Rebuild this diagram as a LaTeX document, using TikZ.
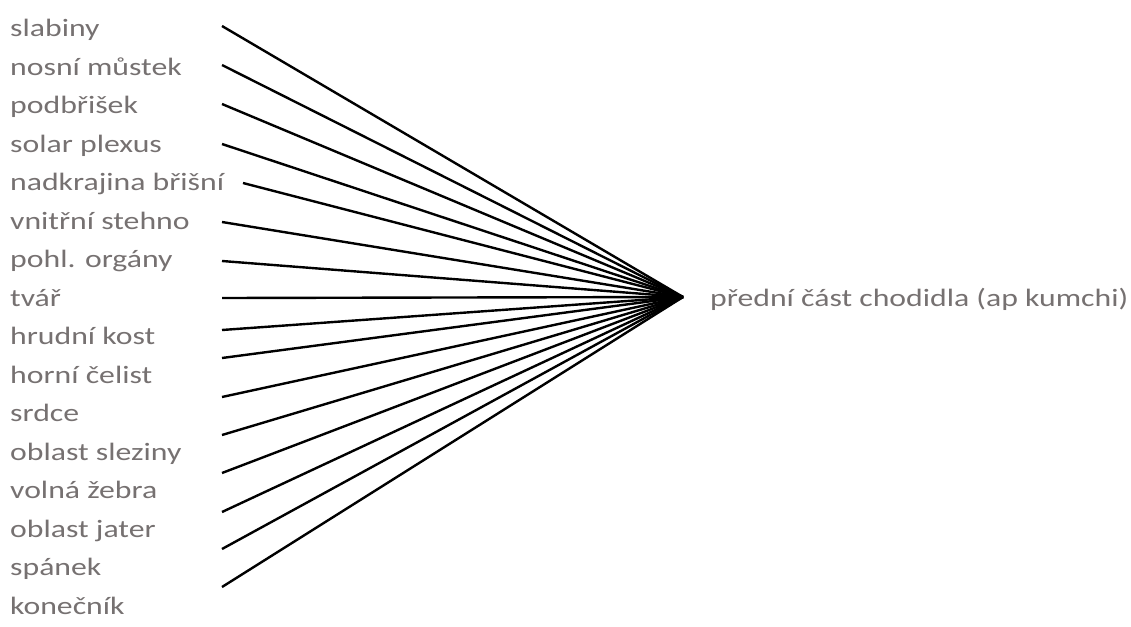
\documentclass[tikz,border=0pt]{standalone}
\usepackage{fontspec}
\setmainfont[FakeStretch=1.27]{Carlito}
\definecolor{labelgray}{HTML}{767171}
\begin{document}
\begin{tikzpicture}[x=1pt,y=-1pt,
  lbl/.style={anchor=base west,inner sep=0pt,text=labelgray,font=\fontsize{25}{30}\selectfont},
  conn/.style={draw=black,line width=2.4pt}]
\useasboundingbox (0,0) rectangle (1131,626);
\foreach \t [count=\i] in {slabiny,nosní můstek,podbřišek,solar plexus,nadkrajina břišní,vnitřní stehno,pohl. orgány,tvář,hrudní kost,horní čelist,srdce,oblast sleziny,volná žebra,oblast jater,spánek,konečník}{
  \node[lbl] (l\i) at (10,{36.7+38.5*(\i-1)}) {\t};
}
\node[lbl] (target) at (710,306.7) {přední část chodidla (ap kumchi)};
\coordinate (hub) at (683,297);
\foreach \y [count=\i] in {26,65,104,144,183,222,261,298,330,358,397,435,473,512,549,587}{
  \coordinate (s\i) at (222,\y);
}
\coordinate (s5) at (243,183);
\foreach \i in {1,...,16}{
  \draw[conn] (s\i) -- (hub);
}
\end{tikzpicture}
\end{document}
